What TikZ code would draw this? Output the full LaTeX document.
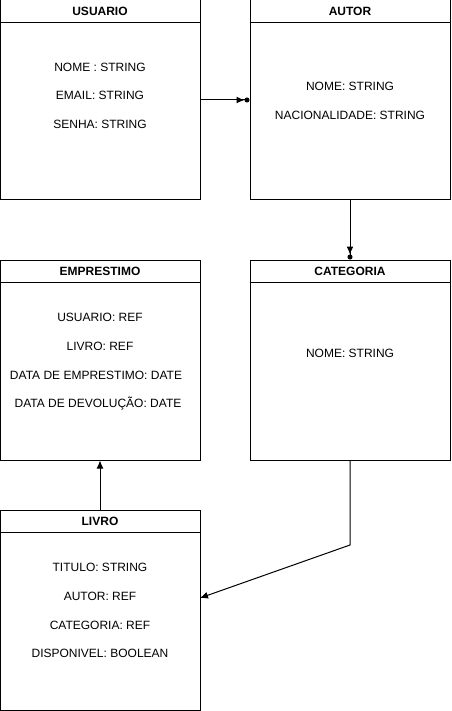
\documentclass[tikz,border=0pt]{standalone}
\usepackage{fontspec}
\setmainfont{Liberation Sans}
\usetikzlibrary{arrows.meta}

\tikzset{
  entity/.style={draw,line width=1pt,minimum width=200pt,minimum height=200pt,inner sep=0pt},
  title/.style={font=\fontsize{12}{14}\selectfont\bfseries,inner sep=0pt},
  field/.style={font=\fontsize{12}{14}\selectfont,inner sep=0pt},
  link/.style={line width=1pt,-{Latex[length=8pt,width=7pt]}},
  dotlink/.style={line width=1pt,-{Latex[length=8pt,width=7pt]Circle[length=5pt]}}
}

\begin{document}
\begin{tikzpicture}[x=1pt,y=-1pt]
    \useasboundingbox (0,0) rectangle (451,711);

    % entities
    \node[entity] (usuario) at (100,100) {};
    \node[entity] (autor) at (350,100) {};
    \node[entity] (emprestimo) at (100,360) {};
    \node[entity] (categoria) at (350,360) {};
    \node[entity] (livro) at (100,610) {};

    \foreach \e in {usuario,autor,emprestimo,categoria,livro}
      \draw[line width=1pt] (\e.north west) ++(0,23) -- ++(200,0);

    \node[title] (tusuario) at (100,11.5) {USUARIO};
    \node[title] (tautor) at (350,11.5) {AUTOR};
    \node[title] (temprestimo) at (100,271.5) {EMPRESTIMO};
    \node[title] (tcategoria) at (350,271.5) {CATEGORIA};
    \node[title] (tlivro) at (100,521.5) {LIVRO};

    % fields
    \node[field] (u1) at (100,67) {NOME : STRING};
    \node[field] (u2) at (100,95) {EMAIL: STRING};
    \node[field] (u3) at (100,124) {SENHA: STRING};

    \node[field] (a1) at (350,86) {NOME: STRING};
    \node[field] (a2) at (350,115) {NACIONALIDADE: STRING};

    \node[field] (e1) at (100,317) {USUARIO: REF};
    \node[field] (e2) at (100,346) {LIVRO: REF};
    \node[field] (e3) at (96,375) {DATA DE EMPRESTIMO: DATE};
    \node[field] (e4) at (98,404) {DATA DE DEVOLUÇÃO: DATE};

    \node[field] (c1) at (350,353) {NOME: STRING};

    \node[field] (l1) at (100,567) {TITULO: STRING};
    \node[field] (l2) at (100,596) {AUTOR: REF};
    \node[field] (l3) at (100,625) {CATEGORIA: REF};
    \node[field] (l4) at (100,653) {DISPONIVEL: BOOLEAN};

    % links
    \coordinate (bend) at (350,545);
    \coordinate (livroin) at (200,598);

    \draw[dotlink] (usuario.east) -- (autor.west);
    \draw[dotlink] (autor.south) -- (categoria.north);
    \draw[link] (livro.north) -- (emprestimo.south);
    \draw[link] (categoria.south) -- (bend) -- (livroin);
  \end{tikzpicture}
\end{document}
